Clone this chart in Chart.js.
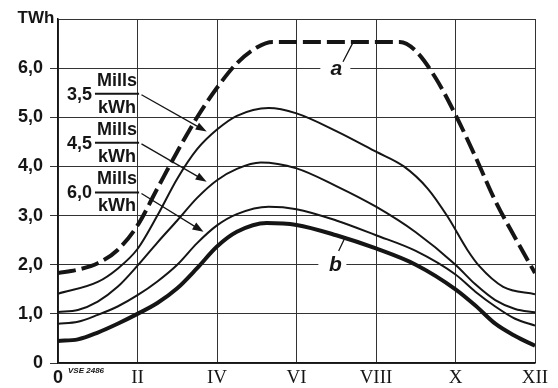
<!DOCTYPE html>
<html>
<head>
<meta charset="utf-8">
<script src="https://cdn.jsdelivr.net/npm/chart.js@4"></script>
<style>
  html, body { margin: 0; padding: 0; background: #fff; }
</style>
</head>
<body>
<canvas id="chart" width="558" height="388"></canvas>
<script>
// tick labels
const monthTicks = ['0', 'II', 'IV', 'VI', 'VIII', 'X', 'XII'];
const yTicks = ['0', '1,0', '2,0', '3,0', '4,0', '5,0', '6,0', ''];

// curve a (dashed)
const aMonths = [0, 0.5, 1, 1.5, 2, 2.5, 3, 3.5, 4, 4.5, 5, 5.4, 8.6, 9, 9.5, 10, 10.5, 11, 11.5, 12];
const aTWh = [1.83, 1.9, 2.03, 2.3, 2.8, 3.55, 4.3, 5.0, 5.6, 6.1, 6.42, 6.53, 6.53, 6.35, 5.8, 5.05, 4.2, 3.3, 2.55, 1.83];

// 3,5 Mills/kWh
const m35Months = [0, 1, 1.5, 2, 2.5, 3, 3.5, 4, 4.5, 5.3, 6, 7, 8, 8.7, 9.3, 9.8, 10.3, 10.6, 11.2, 12];
const m35TWh = [1.41, 1.65, 1.92, 2.32, 3.0, 3.75, 4.35, 4.75, 5.03, 5.19, 5.08, 4.72, 4.3, 4.0, 3.55, 2.98, 2.3, 1.97, 1.55, 1.4];

// 4,5 Mills/kWh
const m45Months = [0, 0.5, 1, 1.5, 2, 2.5, 3, 3.5, 4, 4.5, 5.1, 6, 7, 8, 9, 10, 10.5, 11, 11.5, 12];
const m45TWh = [1.04, 1.08, 1.25, 1.55, 1.98, 2.45, 2.9, 3.36, 3.72, 3.95, 4.08, 3.96, 3.6, 3.18, 2.66, 2.0, 1.6, 1.28, 1.1, 1.03];

// 6,0 Mills/kWh
const m60Months = [0, 0.5, 1, 1.5, 2, 2.5, 3, 3.5, 4, 4.5, 5.3, 6, 7, 8, 9, 10, 10.5, 11, 11.5, 12];
const m60TWh = [0.8, 0.84, 0.98, 1.15, 1.38, 1.66, 2.0, 2.44, 2.8, 3.03, 3.18, 3.13, 2.9, 2.6, 2.28, 1.8, 1.45, 1.15, 0.9, 0.76];

// curve b (thick)
const bMonths = [0, 0.5, 1, 1.5, 2, 2.5, 3, 3.5, 4, 4.5, 5.25, 6, 7, 8, 9, 10, 10.5, 11, 11.5, 12];
const bTWh = [0.45, 0.48, 0.62, 0.8, 1.0, 1.22, 1.52, 1.93, 2.37, 2.67, 2.85, 2.81, 2.6, 2.33, 2.0, 1.5, 1.17, 0.8, 0.55, 0.35];

// annotations
const priceLabels = ['3,5', '4,5', '6,0'];
const priceLevels = [5.48, 4.48, 3.47];
const arrowTipMonth = [3.74, 3.74, 3.66];
const arrowTipTWh = [4.71, 3.69, 2.67];

const toPoints = (xs, ys) => xs.map((x, i) => ({ x: x, y: ys[i] }));
const ink = '#151515';
const sans = "'Liberation Sans', Arial, sans-serif";

const notes = {
  id: 'notes',
  beforeDatasetsDraw(chart) {
    const { ctx, scales: { x, y } } = chart;
    ctx.save();
    ctx.fillStyle = '#fff';
    ctx.fillRect(x.getPixelForValue(6.6), y.getPixelForValue(6) - 3, 30, 6);
    ctx.fillRect(x.getPixelForValue(6.55), y.getPixelForValue(2) - 3, 28, 6);
    ctx.restore();
  },
  afterDatasetsDraw(chart) {
    const { ctx, scales: { x, y } } = chart;
    ctx.save();
    ctx.fillStyle = ink;
    ctx.strokeStyle = ink;

    // TWh unit
    ctx.font = 'bold 17px ' + sans;
    ctx.textAlign = 'center';
    ctx.textBaseline = 'middle';
    ctx.fillText('TWh', 36, 18);

    // VSE 2486
    ctx.font = 'italic bold 8px ' + sans;
    ctx.textAlign = 'left';
    ctx.fillText('VSE 2486', 68, 371);

    // price labels with arrows
    priceLabels.forEach((lab, i) => {
      const ly = y.getPixelForValue(priceLevels[i]);
      const x0 = x.getPixelForValue(0.93);
      const x1 = x.getPixelForValue(2.04);
      ctx.font = 'bold 18px ' + sans;
      ctx.textAlign = 'right';
      ctx.textBaseline = 'middle';
      ctx.fillText(lab, x0 - 3, ly + 1);
      ctx.textAlign = 'center';
      ctx.fillText('Mills', (x0 + x1) / 2, ly - 13);
      ctx.fillText('kWh', (x0 + x1) / 2, ly + 14);
      ctx.lineWidth = 2;
      ctx.beginPath();
      ctx.moveTo(x0, ly);
      ctx.lineTo(x1, ly);
      ctx.stroke();

      const sx = x.getPixelForValue(2.1), sy = ly + 1;
      const tx = x.getPixelForValue(arrowTipMonth[i]);
      const ty = y.getPixelForValue(arrowTipTWh[i]);
      const ang = Math.atan2(ty - sy, tx - sx);
      ctx.lineWidth = 1.3;
      ctx.beginPath();
      ctx.moveTo(sx, sy);
      ctx.lineTo(tx - 8 * Math.cos(ang), ty - 8 * Math.sin(ang));
      ctx.stroke();
      ctx.beginPath();
      ctx.moveTo(tx, ty);
      ctx.lineTo(tx - 11 * Math.cos(ang) + 4 * Math.sin(ang), ty - 11 * Math.sin(ang) - 4 * Math.cos(ang));
      ctx.lineTo(tx - 11 * Math.cos(ang) - 4 * Math.sin(ang), ty - 11 * Math.sin(ang) + 4 * Math.cos(ang));
      ctx.closePath();
      ctx.fill();
    });

    // curve letters
    ctx.font = 'italic bold 21px ' + sans;
    ctx.textAlign = 'center';
    ctx.textBaseline = 'middle';
    ctx.fillText('a', x.getPixelForValue(7.0), y.getPixelForValue(5.97));
    ctx.fillText('b', x.getPixelForValue(6.98), y.getPixelForValue(2.0));
    ctx.lineWidth = 1.3;
    ctx.beginPath();
    ctx.moveTo(x.getPixelForValue(7.17), y.getPixelForValue(6.13));
    ctx.lineTo(x.getPixelForValue(7.42), y.getPixelForValue(6.52));
    ctx.moveTo(x.getPixelForValue(7.06), y.getPixelForValue(2.28));
    ctx.lineTo(x.getPixelForValue(7.2), y.getPixelForValue(2.52));
    ctx.stroke();
    ctx.restore();
  }
};

new Chart(document.getElementById('chart'), {
  type: 'line',
  data: {
    datasets: [
      { label: 'a', data: toPoints(aMonths, aTWh), borderColor: ink, borderWidth: 4, borderDash: [18, 6], cubicInterpolationMode: 'monotone', pointRadius: 0 },
      { label: '3,5 Mills/kWh', data: toPoints(m35Months, m35TWh), borderColor: ink, borderWidth: 2, cubicInterpolationMode: 'monotone', pointRadius: 0 },
      { label: '4,5 Mills/kWh', data: toPoints(m45Months, m45TWh), borderColor: ink, borderWidth: 2, cubicInterpolationMode: 'monotone', pointRadius: 0 },
      { label: '6,0 Mills/kWh', data: toPoints(m60Months, m60TWh), borderColor: ink, borderWidth: 2, cubicInterpolationMode: 'monotone', pointRadius: 0 },
      { label: 'b', data: toPoints(bMonths, bTWh), borderColor: ink, borderWidth: 4, cubicInterpolationMode: 'monotone', pointRadius: 0 }
    ]
  },
  options: {
    responsive: false,
    animation: false,
    layout: { padding: { top: 19, right: 23, bottom: 0, left: 0 } },
    plugins: {
      legend: { display: false },
      tooltip: { enabled: false }
    },
    scales: {
      x: {
        type: 'linear',
        min: 0,
        max: 12,
        afterFit: s => { s.height = 25; },
        border: { color: ink, width: 1.5 },
        grid: { color: '#333', lineWidth: 1, drawTicks: false },
        ticks: {
          stepSize: 2,
          padding: 4,
          color: ink,
          maxRotation: 0,
          callback: v => monthTicks[v / 2],
          font: c => (c.tick && c.tick.value === 0)
            ? { family: sans, size: 18, weight: 'bold' }
            : { family: "'Liberation Serif', serif", size: 19 }
        }
      },
      y: {
        min: 0,
        max: 7,
        afterFit: s => { s.width = 58; },
        border: { color: ink, width: 1.5 },
        grid: {
          color: '#333',
          lineWidth: 1,
          tickLength: 8,
          tickColor: c => (c.tick && c.tick.value === 7) ? 'rgba(0,0,0,0)' : '#333'
        },
        ticks: {
          stepSize: 1,
          padding: 7,
          color: ink,
          callback: v => yTicks[v],
          font: { family: sans, size: 18, weight: 'bold' }
        }
      }
    }
  },
  plugins: [notes]
});
</script>
</body>
</html>
